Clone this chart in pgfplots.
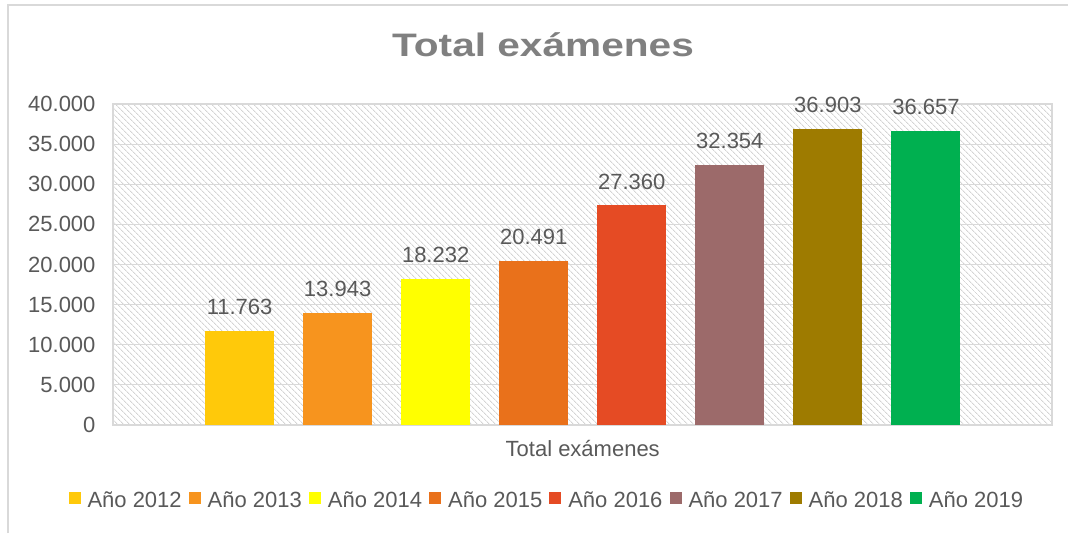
\documentclass[border=0pt]{standalone}
\usepackage{fontspec}
\setmainfont{Liberation Sans}
\newfontfamily\titlefont[FakeStretch=1.25]{Liberation Sans}
\usepackage{pgfplots}
\pgfplotsset{compat=1.18}
\usetikzlibrary{patterns.meta}
\definecolor{c2012}{HTML}{FFC90A}
\definecolor{c2013}{HTML}{F7941E}
\definecolor{c2014}{HTML}{FFFF00}
\definecolor{c2015}{HTML}{E9711B}
\definecolor{c2016}{HTML}{E54B24}
\definecolor{c2017}{HTML}{9C6A6A}
\definecolor{c2018}{HTML}{9E7B00}
\definecolor{c2019}{HTML}{00B050}
\definecolor{gridgray}{HTML}{D9D9D9}
\definecolor{hatchgray}{HTML}{D4D4D4}
\definecolor{textgray}{HTML}{595959}
\definecolor{titlegray}{HTML}{808080}
\newcommand{\lblfont}{\fontsize{22}{26}\selectfont}
\begin{document}
\begin{tikzpicture}
\useasboundingbox (0,0) rectangle (1068pt,533pt);
\draw[line width=1.5pt, color=gridgray] (8pt,0) -- (8pt,528pt) -- (1068pt,528pt);
\node[anchor=base, text=titlegray, inner sep=0pt] at (543pt,476pt) {\titlefont\bfseries\fontsize{32.5}{38}\selectfont Total exámenes};
\begin{axis}[
  at={(113pt,108pt)}, anchor=south west,
  scale only axis, width=939pt, height=321pt,
  axis background/.style={pattern={Lines[angle=-45,distance=4pt,line width=1pt]}, pattern color=hatchgray},
  xmin=-0.291, xmax=9.286,
  ymin=0, ymax=40000,
  ytick={0,5000,...,40000},
  xtick={4.5}, xticklabels={Total exámenes},
  major tick length=0pt,
  ymajorgrids,
  major grid style={gridgray, line width=1.2pt},
  axis line style={gridgray, line width=1.2pt},
  scaled y ticks=false,
  /pgf/number format/.cd, fixed, 1000 sep={.}, assume math mode=true, /pgfplots/.cd,
  tick label style={font=\lblfont, text=textgray},
  yticklabel style={xshift=-14pt},
  xticklabel style={yshift=-12pt},
  ybar, bar shift=0pt, bar width=69pt,
  nodes near coords,
  nodes near coords style={font=\lblfont, text=textgray, anchor=south, inner sep=0pt, yshift=16pt},
  legend columns=8,
  legend style={draw=none, fill=none, at={(0.462,-0.2336)}, anchor=center, font=\lblfont, text=textgray,
    nodes={inner xsep=2pt},
    /tikz/every even column/.append style={column sep=5pt}},
  legend image code/.code={\fill[#1] (0pt,-4pt) rectangle (12pt,8pt); \path (17pt,0pt);},
]
\addplot[fill=c2012, draw=none] coordinates {(1,11763)};
\addplot[fill=c2013, draw=none] coordinates {(2,13943)};
\addplot[fill=c2014, draw=none] coordinates {(3,18232)};
\addplot[fill=c2015, draw=none] coordinates {(4,20491)};
\addplot[fill=c2016, draw=none] coordinates {(5,27360)};
\addplot[fill=c2017, draw=none] coordinates {(6,32354)};
\addplot[fill=c2018, draw=none] coordinates {(7,36903)};
\addplot[fill=c2019, draw=none] coordinates {(8,36657)};
\legend{Año 2012, Año 2013, Año 2014, Año 2015, Año 2016, Año 2017, Año 2018, Año 2019}
\end{axis}
\end{tikzpicture}
\end{document}
